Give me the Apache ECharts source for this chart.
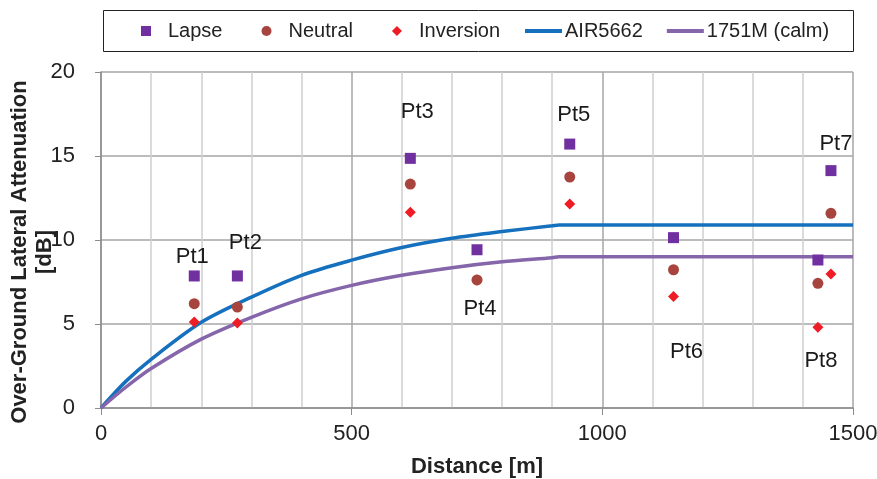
<!DOCTYPE html>
<html>
<head>
<meta charset="utf-8">
<script src="https://cdn.jsdelivr.net/npm/echarts@6/dist/echarts.min.js"></script>
<style>
  html, body { margin: 0; padding: 0; background: #fff; }
  #chart { width: 877px; height: 479px; }
</style>
</head>
<body>
<div id="chart"></div>
<script>
// model curves (distance in m, attenuation in dB)
const curveX = [0, 50, 100, 200, 300, 400, 500, 600, 700, 800, 900, 914, 1500]
const air5662 = [0, 1.6, 2.9, 5.1, 6.6, 7.9, 8.8, 9.55, 10.1, 10.5, 10.85, 10.9, 10.9]
const calm1751 = [0, 1.25, 2.35, 4.1, 5.4, 6.5, 7.3, 7.9, 8.35, 8.7, 8.95, 9.0, 9.0]

// measured points
const ptNames = ['Pt1', 'Pt2', 'Pt3', 'Pt4', 'Pt5', 'Pt6', 'Pt7', 'Pt8']
const ptDist = [186, 272, 617, 750, 935, 1142, 1456, 1430]
const lapse = [7.86, 7.86, 14.86, 9.42, 15.71, 10.14, 14.13, 8.81]
const neutral = [6.21, 6.01, 13.33, 7.62, 13.75, 8.23, 11.59, 7.42]
const inversion = [5.12, 5.06, 11.65, 7.62, 12.14, 6.63, 7.98, 4.8]

const xTicks = [0, 500, 1000, 1500]
const yTicks = [0, 5, 10, 15, 20]

// label offsets (px) relative to the lapse marker
const labelOffsets = [[-2, -19], [8, -33], [7, -46], [3, 59], [4, -29], [13, 114], [5, -27], [3, 101]]

const font = "'Liberation Sans', Arial, sans-serif"
const pair = (xs, ys) => xs.map((x, i) => [x, ys[i]])

let mychart = echarts.init(document.getElementById('chart'))
let option = {
  animation: false,
  textStyle: { fontFamily: font },
  grid: { left: 101, right: 24, top: 72, bottom: 71, outerBoundsMode: 'none' },
  graphic: [
    {
      type: 'rect',
      shape: { x: 103.5, y: 10.5, width: 750, height: 41 },
      style: { fill: 'none', stroke: '#222', lineWidth: 1 },
      z: 100,
    },
  ],
  legend: [
    {
      left: 136,
      top: 16,
      itemWidth: 10,
      itemHeight: 10,
      itemGap: 39,
      textStyle: { fontSize: 20, color: '#222', fontFamily: font, padding: [0, 0, 0, 12] },
      data: [
        { name: 'Lapse', icon: 'rect' },
        { name: 'Neutral', icon: 'circle' },
        { name: 'Inversion', icon: 'diamond' },
      ],
    },
    {
      left: 520,
      top: 16,
      itemWidth: 37,
      itemHeight: 4,
      itemGap: 24,
      textStyle: { fontSize: 20, color: '#222', fontFamily: font, padding: [0, 0, 0, -2] },
      data: [
        { name: 'AIR5662', icon: 'rect' },
        { name: '1751M (calm)', icon: 'rect' },
      ],
    },
  ],
  xAxis: {
    type: 'value',
    min: 0,
    max: 1500,
    interval: 500,
    name: 'Distance [m]',
    nameLocation: 'middle',
    nameGap: 48,
    nameMoveOverlap: false,
    nameTextStyle: { fontSize: 22, fontWeight: 'bold', color: '#222', fontFamily: font },
    axisLine: { lineStyle: { color: '#8c8c8c', width: 1.5 } },
    axisTick: { show: true, length: 7, lineStyle: { color: '#8c8c8c' } },
    axisLabel: {
      fontSize: 22, color: '#222', margin: 15,
      formatter: (v) => (xTicks.includes(v) ? String(v) : ''),
    },
    splitLine: { show: true, lineStyle: { color: '#a6a6a6', width: 1.5 } },
    minorTick: { show: false, splitNumber: 5 },
    minorSplitLine: { show: true, lineStyle: { color: '#d0d0d0', width: 1.5 } },
  },
  yAxis: {
    type: 'value',
    min: 0,
    max: 20,
    interval: 5,
    name: 'Over-Ground Lateral Attenuation\n[dB]',
    nameLocation: 'middle',
    nameGap: 44,
    nameMoveOverlap: false,
    nameTextStyle: {
      fontSize: 22, fontWeight: 'bold', color: '#222', fontFamily: font,
      lineHeight: 25, padding: [0, 24, 0, 0],
    },
    axisLine: { show: true, lineStyle: { color: '#8c8c8c', width: 1.5 } },
    axisTick: { show: true, length: 6, lineStyle: { color: '#8c8c8c' } },
    axisLabel: {
      fontSize: 22, color: '#222', margin: 26,
      formatter: (v) => (yTicks.includes(v) ? String(v) : ''),
    },
    splitLine: { show: true, lineStyle: { color: '#a6a6a6', width: 1.5 } },
  },
  series: [
    {
      name: 'AIR5662',
      type: 'line',
      data: pair(curveX, air5662),
      symbol: 'none',
      smooth: 0.3,
      color: '#1570BE',
      lineStyle: { width: 3.5, color: '#1570BE' },
      z: 2,
    },
    {
      name: '1751M (calm)',
      type: 'line',
      data: pair(curveX, calm1751),
      symbol: 'none',
      smooth: 0.3,
      color: '#8566AA',
      lineStyle: { width: 3.5, color: '#8566AA' },
      z: 2,
    },
    {
      name: 'Inversion',
      type: 'scatter',
      symbol: 'diamond',
      symbolSize: 11,
      color: '#EE1C25',
      itemStyle: { opacity: 1 },
      data: pair(ptDist, inversion),
      z: 3,
    },
    {
      name: 'Neutral',
      type: 'scatter',
      symbol: 'circle',
      symbolSize: 11,
      color: '#A8443E',
      itemStyle: { opacity: 1 },
      data: pair(ptDist, neutral),
      z: 4,
    },
    {
      name: 'Lapse',
      type: 'scatter',
      symbol: 'rect',
      symbolSize: 11,
      color: '#7030A0',
      itemStyle: { opacity: 1 },
      data: lapse.map((v, i) => ({
        value: [ptDist[i], v],
        label: { offset: labelOffsets[i] },
      })),
      label: {
        show: true,
        position: 'inside',
        fontSize: 22,
        color: '#1a1a1a',
        textBorderWidth: 0,
        fontFamily: font,
        formatter: (p) => ptNames[p.dataIndex],
      },
      z: 5,
    },
  ],
}

mychart.setOption(option)
window.addEventListener('resize', () => {
  mychart.resize()
})
</script>
</body>
</html>
